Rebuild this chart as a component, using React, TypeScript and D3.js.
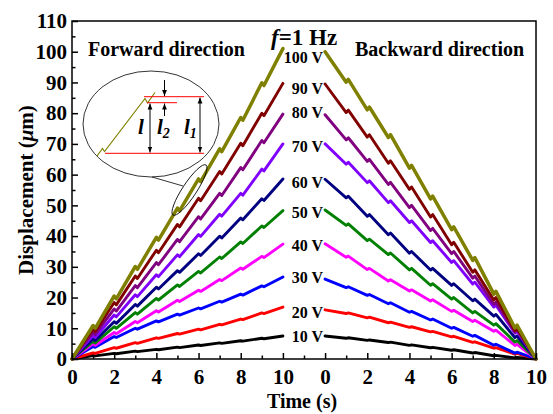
import * as d3 from 'd3';
import React, { useEffect, useRef } from 'react';

// series labels + colours (Origin style palette)
const voltages = ['10 V', '20 V', '30 V', '40 V', '50 V', '60 V', '70 V', '80 V', '90 V', '100 V'];
const colors = ['#000000', '#ff0000', '#0000ff', '#ff00ff', '#008000', '#000080', '#8000ff', '#800080', '#800000', '#808000'];

// time points (s) for each panel
const seconds = [0, 1, 2, 3, 4, 5, 6, 7, 8, 9, 10];

// forward direction, displacement (um) at each second
const fwd10 = [0, 1, 1.7, 2.4, 3, 3.7, 4.4, 5.1, 5.8, 6.6, 7.5];
const fwd20 = [0, 1.8, 3.5, 5.1, 6.7, 8.1, 9.5, 11.1, 12.8, 14.8, 16.9];
const fwd30 = [0, 3.8, 7, 9.7, 12.1, 14.3, 16.3, 18.5, 20.8, 23.5, 26.7];
const fwd40 = [0, 4.5, 8.2, 11.8, 15.3, 18.7, 22, 25.5, 29.2, 33, 37.4];
const fwd50 = [0, 5.2, 10, 14.6, 19.2, 23.6, 28, 32.7, 37.6, 42.8, 48.3];
const fwd60 = [0, 6, 11.6, 17.2, 22.8, 28.2, 33.7, 39.4, 45.3, 51.6, 58.6];
const fwd70 = [0, 7, 13.7, 20.3, 26.8, 33.3, 39.9, 46.5, 53.3, 61.2, 70];
const fwd80 = [0, 8, 15.6, 23.2, 30.7, 38.2, 45.6, 53.2, 61.6, 70.4, 79.7];
const fwd90 = [0, 9, 17.6, 26.2, 34.6, 43, 51.5, 60.2, 69.4, 79.2, 89.7];
const fwd100 = [0, 10, 19.6, 29.2, 38.7, 48.2, 57.7, 67.5, 77.7, 89, 101];

// backward direction
const bwd10 = [7.5, 6.9, 6.2, 5.5, 4.6, 3.8, 3, 2.1, 1.2, 0.5, 0];
const bwd20 = [16, 15, 13.6, 12, 10.5, 9, 7.4, 5.6, 3.7, 1.8, 0];
const bwd30 = [26, 23.5, 21, 18.3, 15.5, 13, 10.3, 7.7, 4.8, 2.2, 0];
const bwd40 = [37.5, 33.5, 29.5, 25.8, 22.5, 19.3, 15.9, 12.6, 9.4, 4.8, 0];
const bwd50 = [48.5, 44, 39, 34.5, 29.5, 24.5, 20, 15.5, 11.5, 6, 0];
const bwd60 = [58.5, 53, 47, 41, 35, 29.5, 24.5, 19.5, 14.5, 7.5, 0];
const bwd70 = [70, 64, 58, 51.5, 45, 38.5, 32, 25, 17.5, 9, 0];
const bwd80 = [79.5, 72, 65, 57.5, 50, 42.5, 35, 27, 18.5, 9.5, 0];
const bwd90 = [89.5, 81, 73, 64.5, 56, 47, 38, 29, 20, 10, 0];
const bwd100 = [100, 91, 82, 73, 63, 53, 43, 33, 22, 11, 0];

// slip back at each step (um)
const slips = [0.15, 0.2, 0.3, 0.4, 0.5, 0.55, 0.6, 0.7, 0.8, 0.9];
// where the voltage labels sit (um)
const labelAt = [7.2, 15.3, 26.4, 37.1, 47.7, 57.5, 69.2, 80.4, 88.2, 98];

const forward = [fwd10, fwd20, fwd30, fwd40, fwd50, fwd60, fwd70, fwd80, fwd90, fwd100];
const backward = [bwd10, bwd20, bwd30, bwd40, bwd50, bwd60, bwd70, bwd80, bwd90, bwd100];

// x axis: two panels of 0..10 s with a 2 s gap
const xMajor = [0, 2, 4, 6, 8, 10, 12, 14, 16, 18, 20, 22];
const xMajorLabels = ['0', '2', '4', '6', '8', '10', '0', '2', '4', '6', '8', '10'];
const xMinor = [1, 3, 5, 7, 9, 11, 13, 15, 17, 19, 21];
const yMajor = [0, 10, 20, 30, 40, 50, 60, 70, 80, 90, 100, 110];
const yMinor = [5, 15, 25, 35, 45, 55, 65, 75, 85, 95, 105];

const FONT = '"Liberation Serif", "Times New Roman", serif';
const left = 72, right = 536, top = 21, bottom = 359;
const panelGap = 12;

// step-wise path: reach next value (+/- slip) then slip back
function stickSlip(vals: number[], slip: number, dir: number) {
    const pts: [number, number][] = [[seconds[0], vals[0]]];
    for (let i = 1; i < seconds.length; i++) {
        if (i < seconds.length - 1) {
            pts.push([seconds[i], vals[i] + dir * slip]);
            pts.push([seconds[i] + 0.1, vals[i]]);
        } else {
            pts.push([seconds[i], vals[i]]);
        }
    }
    return pts;
}

function App() {
    const xAxisRef = useRef<SVGGElement>(null);
    const yAxisRef = useRef<SVGGElement>(null);

    const x = d3.scaleLinear().domain([0, 22]).range([left, right]);
    const y = d3.scaleLinear().domain([0, 110]).range([bottom, top]);

    useEffect(() => {
        const gx = d3.select(xAxisRef.current);
        gx.selectAll('*').remove();
        const major = gx.append('g').call(
            d3.axisBottom(x).tickValues(xMajor).tickSize(-6).tickPadding(10)
                .tickFormat((d, i) => xMajorLabels[i])
        );
        const minor = gx.append('g').call(
            d3.axisBottom(x).tickValues(xMinor).tickSize(-3.5).tickFormat(() => '')
        );

        const gy = d3.select(yAxisRef.current);
        gy.selectAll('*').remove();
        const ymaj = gy.append('g').call(
            d3.axisLeft(y).tickValues(yMajor).tickSize(-6).tickPadding(5)
        );
        const ymin = gy.append('g').call(
            d3.axisLeft(y).tickValues(yMinor).tickSize(-3.5).tickFormat(() => '')
        );

        [major, minor, ymaj, ymin].forEach(g => {
            g.select('.domain').remove();
            g.selectAll('line').attr('stroke', '#000').attr('stroke-width', 1.5);
            g.attr('font-family', FONT).attr('font-size', 21).attr('font-weight', 'bold');
            g.selectAll('text').attr('fill', '#000');
        });
    }, []);

    const line = (offset: number) => d3.line<[number, number]>()
        .x(d => x(offset + d[0]))
        .y(d => y(d[1]));

    return (
        <div style={{ position: 'absolute', left: 0, top: 0 }}>
            <svg width={553} height={414} style={{ display: 'block', background: '#fff' }}>
                <g fill="none" strokeLinejoin="round" strokeLinecap="round">
                    {forward.map((vals, i) => (
                        <path key={'f' + i} d={line(0)(stickSlip(vals, slips[i], 1)) || ''}
                            stroke={colors[i]} strokeWidth={i === 9 ? 3.5 : 2.9} />
                    ))}
                    {backward.map((vals, i) => (
                        <path key={'b' + i} d={line(panelGap)(stickSlip(vals, slips[i], -1)) || ''}
                            stroke={colors[i]} strokeWidth={i === 9 ? 3.5 : 2.9} />
                    ))}
                </g>

                <rect x={left} y={top} width={right - left} height={bottom - top}
                    fill="none" stroke="#000" strokeWidth={1.5} />
                <g ref={xAxisRef} transform={`translate(0,${bottom})`} />
                <g ref={yAxisRef} transform={`translate(${left},0)`} />

                <g fontFamily={FONT} fontWeight="bold" fill="#000">
                    {voltages.map((v, i) => (
                        <text key={v} x={323} y={y(labelAt[i])} dy="0.35em" textAnchor="end" fontSize={16}>{v}</text>
                    ))}
                    <text x={88} y={56} fontSize={20}>Forward direction</text>
                    <text x={355} y={56} fontSize={20}>Backward direction</text>
                    <text x={271} y={45} fontSize={23}><tspan fontStyle="italic">f</tspan>=1 Hz</text>
                    <text x={302} y={408} fontSize={20} textAnchor="middle">Time (s)</text>
                    <text transform="translate(33,190) rotate(-90)" fontSize={21} textAnchor="middle">
                        Displacement (<tspan fontStyle="italic">μ</tspan>m)
                    </text>
                </g>

                {/* magnified inset */}
                <g fill="none">
                    <ellipse cx={151} cy={124} rx={68} ry={53} stroke="#000" strokeWidth={0.8} />
                    <ellipse cx={189.5} cy={190} rx={30} ry={7} transform="rotate(-56.6,189.5,190)"
                        stroke="#000" strokeWidth={0.8} />
                    <line x1={152} y1={177} x2={183} y2={186} stroke="#000" strokeWidth={0.8} />
                    <path d="M97,156 L102.5,148.5 L104.5,151.5 L145,98.5 L147.5,103 L155,92.5"
                        stroke="#808000" strokeWidth={1.2} />
                    <line x1={144} y1={96.7} x2={204} y2={96.7} stroke="#ff0000" strokeWidth={1} />
                    <line x1={147} y1={102.7} x2={177} y2={102.7} stroke="#ff0000" strokeWidth={1} />
                    <line x1={105} y1={153.3} x2={204} y2={153.3} stroke="#ff0000" strokeWidth={1} />
                    <defs>
                        <marker id="ah" viewBox="0 0 10 10" refX={10} refY={5} markerWidth={6} markerHeight={6}
                            orient="auto-start-reverse">
                            <path d="M0,1 L10,5 L0,9 z" fill="#000" />
                        </marker>
                    </defs>
                    <line x1={150} y1={103.5} x2={150} y2={152.5} stroke="#000" strokeWidth={1}
                        markerStart="url(#ah)" markerEnd="url(#ah)" />
                    <line x1={200} y1={97.5} x2={200} y2={152.5} stroke="#000" strokeWidth={1}
                        markerStart="url(#ah)" markerEnd="url(#ah)" />
                    <line x1={164.5} y1={80} x2={164.5} y2={96} stroke="#000" strokeWidth={1} markerEnd="url(#ah)" />
                    <line x1={164.5} y1={116} x2={164.5} y2={103.5} stroke="#000" strokeWidth={1} markerEnd="url(#ah)" />
                </g>
                <g fontFamily={FONT} fontStyle="italic" fontWeight="bold" fontSize={21} fill="#000">
                    <text x={138} y={134}>l</text>
                    <text x={157} y={134}>l<tspan fontSize={14} dy={4}>2</tspan></text>
                    <text x={184} y={134}>l<tspan fontSize={14} dy={4}>1</tspan></text>
                </g>
            </svg>
        </div>
    );
}

export default App;
